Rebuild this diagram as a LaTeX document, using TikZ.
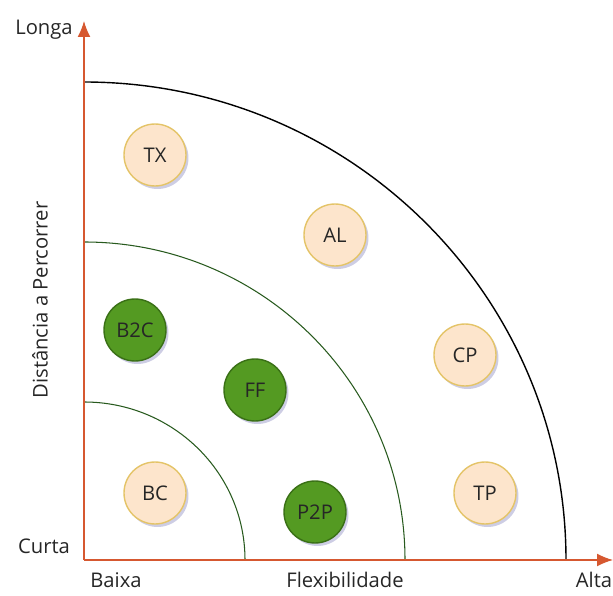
\documentclass[tikz,border=0pt]{standalone}
\usepackage{fontspec}
\setmainfont{Open Sans}
\usetikzlibrary{shadows,arrows.meta}

\definecolor{axisred}{RGB}{214,88,48}
\definecolor{peach}{RGB}{253,229,204}
\definecolor{peachline}{RGB}{228,196,104}
\definecolor{leafgreen}{RGB}{84,154,34}
\definecolor{leafline}{RGB}{58,112,22}
\definecolor{arcgreen}{RGB}{40,90,30}

\tikzset{
  lowcirc/.style={circle,minimum size=1.24cm,inner sep=0pt,fill=peach,draw=peachline,thick,
    text=black!85,font=\fontsize{11.5}{13}\selectfont,
    drop shadow={shadow xshift=0.05cm,shadow yshift=-0.06cm,opacity=0.3,fill=blue!30!gray}},
  highcirc/.style={lowcirc,fill=leafgreen,draw=leafline},
  axislabel/.style={font=\fontsize{11.5}{13}\selectfont,text=black!85},
  axisline/.style={axisred,thick,-{Latex[length=3.2mm,width=2.6mm]}}
}

\begin{document}
\begin{tikzpicture}[x=0.02cm,y=0.02cm]
    \useasboundingbox (0,0) rectangle (613,596);
    % axes
    \coordinate (O) at (84,36);
    \coordinate (ytop) at (84,575);
    \coordinate (xend) at (613,36);
    % zones
    \draw[black,thick] (84,514) arc[start angle=90,end angle=0,x radius=482,y radius=478];
    \draw[arcgreen,semithick] (84,354) arc[start angle=90,end angle=0,x radius=321,y radius=318];
    \draw[arcgreen,semithick] (84,194) arc[start angle=90,end angle=0,x radius=161,y radius=158];
    \draw[axisline] (O) -- (ytop);
    \draw[axisline] (O) -- (xend);
    % labels
    \node[axislabel] (longa) at (44,566) {Longa};
    \node[axislabel] (curta) at (44,50) {Curta};
    \node[axislabel] (baixa) at (116,16) {Baixa};
    \node[axislabel] (flex) at (345,16) {Flexibilidade};
    \node[axislabel] (alta) at (594,16) {Alta};
    \node[axislabel,rotate=90] (dist) at (40,296) {Distância a Percorrer};
    % points
    \node[lowcirc] (tx) at (155,441) {TX};
    \node[lowcirc] (al) at (335,361) {AL};
    \node[highcirc] (b2c) at (135,266) {B2C};
    \node[lowcirc] (cp) at (465,241) {CP};
    \node[highcirc] (ff) at (255,206) {FF};
    \node[lowcirc] (bc) at (155,103) {BC};
    \node[highcirc] (p2p) at (315,84) {P2P};
    \node[lowcirc] (tp) at (485,103) {TP};
\end{tikzpicture}
\end{document}
